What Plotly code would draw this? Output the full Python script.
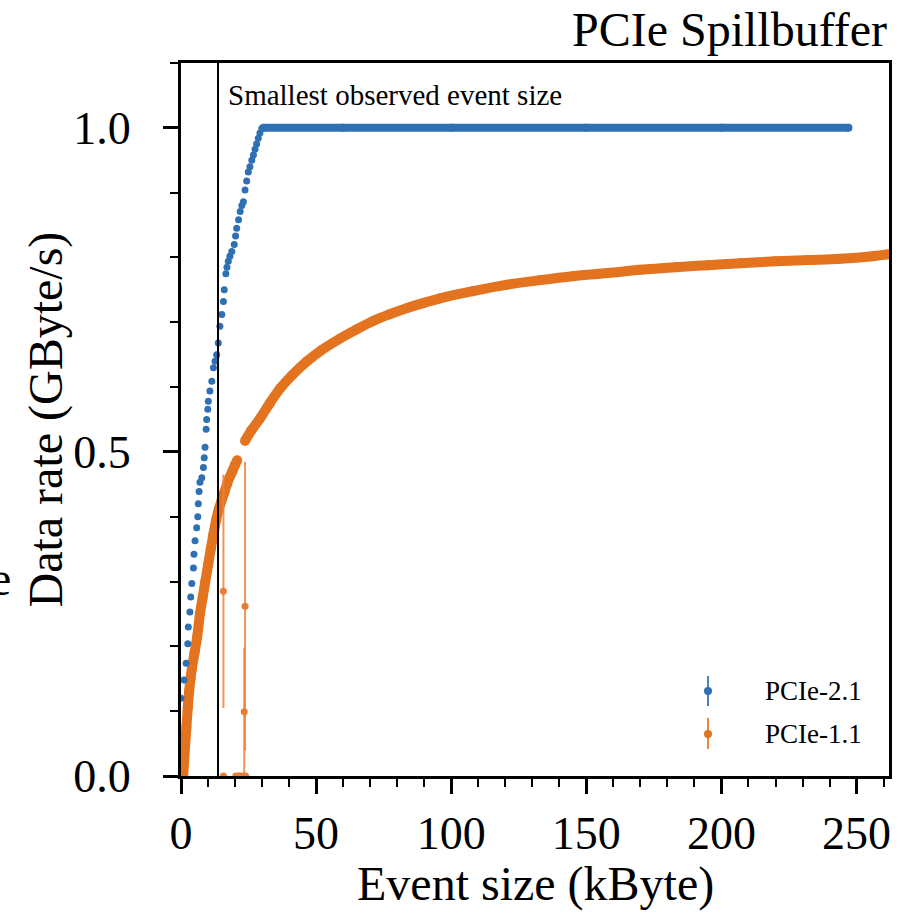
import plotly.graph_objects as go

# ---------------- data ----------------
# PCIe-2.1 rising part (discrete points), kByte vs GByte/s
blue_rise_x = [0.0, 1.1, 1.9, 2.5, 2.7, 3.3, 3.6, 4.0, 4.6, 4.8, 5.2, 5.8, 6.2, 6.4, 6.7,
               7.0, 7.7, 8.3, 8.6, 8.9, 9.3, 9.5, 9.9, 10.1, 10.7, 11.4, 12.0, 12.6, 13.2,
               13.8, 14.4, 15.1, 15.7, 16.0, 16.6, 17.0, 17.5, 18.1, 18.8, 19.7, 20.2, 20.6,
               21.3, 21.9, 22.5, 23.1, 23.7, 24.3, 24.9, 25.5, 26.2, 26.8, 27.4, 28.0, 28.6,
               29.2, 29.9]
blue_rise_y = [0.120, 0.148, 0.174, 0.204, 0.230, 0.253, 0.276, 0.297, 0.321, 0.342, 0.363,
               0.383, 0.400, 0.420, 0.439, 0.453, 0.460, 0.476, 0.491, 0.507, 0.535, 0.550,
               0.566, 0.578, 0.594, 0.609, 0.630, 0.640, 0.650, 0.668, 0.694, 0.712, 0.732,
               0.750, 0.775, 0.785, 0.794, 0.802, 0.809, 0.820, 0.833, 0.845, 0.858, 0.871,
               0.880, 0.886, 0.904, 0.918, 0.932, 0.940, 0.950, 0.958, 0.967, 0.975, 0.984,
               0.992, 0.999]
# PCIe-2.1 plateau
blue_flat_x = [30.5, 60.0, 100.0, 150.0, 200.0, 247.0]
blue_flat_y = [1.0, 1.0, 1.0, 1.0, 1.0, 1.0]

# PCIe-1.1 lower branch
orange_lo_x = [0.8, 1.5, 2.0, 2.5, 3.0, 3.5, 4.0, 5.0, 6.0, 7.0, 8.0, 9.0, 10.0, 11.0, 12.0,
               13.0, 14.0, 15.0, 16.0, 17.0, 18.0, 19.0, 20.0, 20.8]
orange_lo_y = [0.0, 0.045, 0.075, 0.105, 0.13, 0.15, 0.165, 0.19, 0.215, 0.25, 0.275, 0.30,
               0.325, 0.35, 0.373, 0.395, 0.412, 0.425, 0.437, 0.450, 0.461, 0.470, 0.480, 0.487]
# PCIe-1.1 upper branch
orange_hi_x = [23.7, 26, 29.3, 33, 36.7, 41, 46.7, 52, 58.9, 65, 71.1, 77, 83.7, 90, 95.9,
               108, 120.7, 133, 145, 158, 170, 183, 195, 207, 220, 232, 244, 256, 262]
orange_hi_y = [0.517, 0.533, 0.552, 0.576, 0.598, 0.618, 0.640, 0.657, 0.675, 0.689, 0.702,
               0.712, 0.722, 0.730, 0.737, 0.748, 0.758, 0.765, 0.771, 0.776, 0.781, 0.785,
               0.788, 0.791, 0.794, 0.796, 0.798, 0.802, 0.805]
# PCIe-1.1 outliers with error bars
orange_err_x = [15.7, 23.7, 23.4, 15.7, 20.3, 21.2, 22.1, 23.0, 23.9]
orange_err_y = [0.285, 0.262, 0.099, 0.0, 0.0, 0.0, 0.0, 0.0, 0.0]
orange_err_e = [0.18, 0.223, 0.099, 0.0, 0.0, 0.0, 0.0, 0.0, 0.0]

min_event_size = 13.7
series_names = ["PCIe-2.1", "PCIe-1.1"]

# ---------------- styling ----------------
BLUE = "#2f6fb4"
ORANGE = "#e4731f"
ORANGE_ERR = "rgba(236,130,60,0.85)"
FONT = "Liberation Serif"

fig = go.Figure()

fig.add_trace(go.Scatter(x=orange_lo_x, y=orange_lo_y, mode="lines+markers",
                         line=dict(color=ORANGE, width=10, shape="spline"),
                         marker=dict(color=ORANGE, size=10), showlegend=False))
fig.add_trace(go.Scatter(x=orange_hi_x, y=orange_hi_y, mode="lines+markers",
                         line=dict(color=ORANGE, width=10, shape="spline"),
                         marker=dict(color=ORANGE, size=10), showlegend=False))
fig.add_trace(go.Scatter(x=orange_err_x, y=orange_err_y, mode="markers",
                         marker=dict(color="#e97d35", size=7),
                         error_y=dict(type="data", array=orange_err_e, color=ORANGE_ERR,
                                      thickness=2, width=0),
                         showlegend=False))
fig.add_trace(go.Scatter(x=blue_rise_x, y=blue_rise_y, mode="markers",
                         marker=dict(color=BLUE, size=7), showlegend=False))
fig.add_trace(go.Scatter(x=blue_flat_x, y=blue_flat_y, mode="lines+markers",
                         line=dict(color=BLUE, width=8),
                         marker=dict(color=BLUE, size=8), showlegend=False))

L, R, T, B = 181, 22, 63, 139
W, H = 911, 915
pw, ph = W - L - R, H - T - B


def px2paper_x(px):
    return (px - L) / pw


def px2paper_y(py):
    return (H - B - py) / ph


axis_common = dict(showline=True, linecolor="black", linewidth=3, mirror=True,
                   ticks="outside", ticklen=15, tickwidth=3, tickcolor="black",
                   showgrid=False, zeroline=False,
                   tickfont=dict(family=FONT, size=46, color="black"))

fig.update_xaxes(range=[0, 262], tick0=0, dtick=50, ticklabelstandoff=0,
                 minor=dict(ticks="outside", dtick=10, ticklen=8, tickwidth=2,
                            tickcolor="black", showgrid=False),
                 **axis_common)
fig.update_yaxes(range=[0, 1.1], tick0=0, dtick=0.5, tickformat=".1f", ticklabelstandoff=23,
                 minor=dict(ticks="outside", dtick=0.1, ticklen=8, tickwidth=2,
                            tickcolor="black", showgrid=False),
                 **axis_common)

shapes = [dict(type="line", xref="x", yref="paper", x0=min_event_size, x1=min_event_size,
               y0=0, y1=1, line=dict(color="black", width=2))]

# custom legend (marker with vertical error bar)
legend_rows = [(series_names[0], BLUE, 691, 676, 706), (series_names[1], ORANGE, 734, 718, 749)]
annotations = []
lx = px2paper_x(708)
for name, col, yc, ytop, ybot in legend_rows:
    shapes.append(dict(type="line", xref="paper", yref="paper", x0=lx, x1=lx,
                       y0=px2paper_y(ybot), y1=px2paper_y(ytop),
                       line=dict(color=col, width=2), opacity=0.85))
    shapes.append(dict(type="circle", xref="paper", yref="paper", xsizemode="pixel",
                       ysizemode="pixel", xanchor=lx, yanchor=px2paper_y(yc),
                       x0=-4, x1=4, y0=-4, y1=4, fillcolor=col, line=dict(width=0)))
    annotations.append(dict(text=name, xref="paper", yref="paper", x=px2paper_x(763),
                            y=px2paper_y(yc), xanchor="left", yanchor="middle",
                            showarrow=False, font=dict(family=FONT, size=27, color="black")))

annotations += [
    dict(text="Smallest observed event size", xref="paper", yref="paper",
         x=px2paper_x(226), y=px2paper_y(95), xanchor="left", yanchor="middle",
         showarrow=False, font=dict(family=FONT, size=29, color="black")),
    dict(text="PCIe Spillbuffer", xref="paper", yref="paper",
         x=1, y=px2paper_y(30), xanchor="right", yanchor="middle",
         showarrow=False, font=dict(family=FONT, size=48, color="black")),
    dict(text="Event size (kByte)", xref="paper", yref="paper",
         x=0.5, y=px2paper_y(884), xanchor="center", yanchor="middle",
         showarrow=False, font=dict(family=FONT, size=48, color="black")),
    dict(text="Data rate (GByte/s)", xref="paper", yref="paper", textangle=-90,
         x=px2paper_x(45), y=0.5, xanchor="center", yanchor="middle",
         showarrow=False, font=dict(family=FONT, size=48, color="black")),
    dict(text="e", xref="paper", yref="paper",
         x=px2paper_x(13), y=px2paper_y(578), xanchor="right", yanchor="middle",
         showarrow=False, font=dict(family=FONT, size=48, color="black")),
]

fig.update_layout(width=W, height=H, margin=dict(l=L, r=R, t=T, b=B, autoexpand=False),
                  paper_bgcolor="white", plot_bgcolor="white",
                  shapes=shapes, annotations=annotations, showlegend=False,
                  font=dict(family=FONT, color="black"))

fig.write_html("out.html", config={"displayModeBar": False},
               post_script="document.body.style.margin='0';"
                           "document.body.style.padding='0';")
